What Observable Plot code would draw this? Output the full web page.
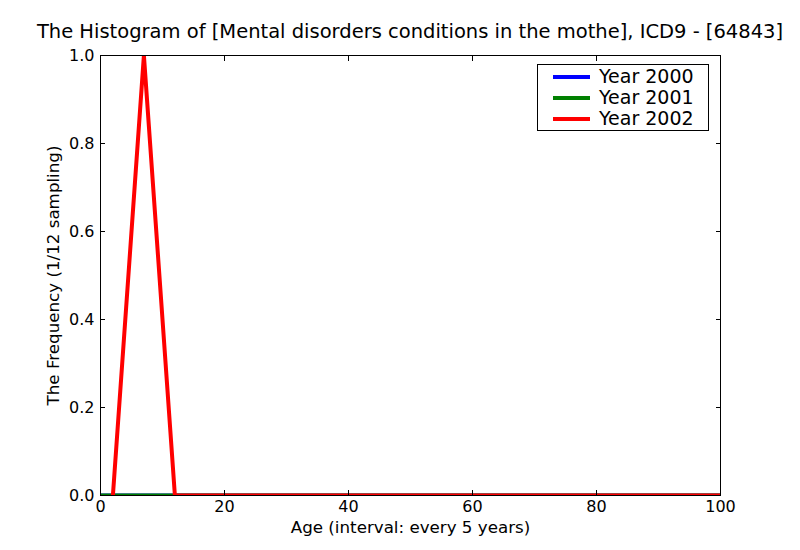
<!DOCTYPE html>
<html>
<head>
<meta charset="utf-8">
<script src="https://cdn.jsdelivr.net/npm/d3@7"></script>
<script src="https://cdn.jsdelivr.net/npm/@observablehq/plot@0.6"></script>
<style>
  body { margin: 0; background: #fff; font-family: "DejaVu Sans", sans-serif; }
  #wrap { position: relative; width: 800px; height: 550px; overflow: hidden; }
  #title { position: absolute; top: 22px; left: 0; width: 820px; text-align: center; font-size: 19.5px; white-space: nowrap; color: #000; line-height: 1; }
  #legend { position: absolute; left: 537px; top: 64px; width: 170px; height: 65px; border: 1px solid #000; background: #fff; }
  .li { position: absolute; left: 15px; height: 21px; font-size: 19px; line-height: 21px; }
  .li span.sw { display: inline-block; width: 37px; height: 4px; vertical-align: middle; margin-right: 9px; position: relative; top: -1px; }
  #chart { position: absolute; left: 0; top: 0; }
  #chart svg g[aria-label="x-axis label"] text, #chart svg g[aria-label="y-axis label"] text { font-size: 16.7px; }
</style>
</head>
<body>
<div id="wrap">
  <div id="chart"></div>
  <div id="title"></div>
  <div id="legend"></div>
</div>
<script>
const titleText = "The Histogram of [Mental disorders conditions in the mothe], ICD9 - [64843]";
const xLabel = "Age (interval: every 5 years)";
const yLabel = "The Frequency (1/12 sampling)";
const seriesNames = ["Year 2000", "Year 2001", "Year 2002"];
const seriesColors = ["#0000ff", "#008000", "#ff0000"];
const ages = [0, 2, 7, 12, 17, 22, 27, 32, 37, 42, 47, 52, 57, 62, 67, 72, 77, 82, 87, 92, 97, 100];
const year2000 = [0, 0, 0, 0, 0, 0, 0, 0, 0, 0, 0, 0, 0, 0, 0, 0, 0, 0, 0, 0, 0, 0];
const year2001 = [0, 0, 0, 0, 0, 0, 0, 0, 0, 0, 0, 0, 0, 0, 0, 0, 0, 0, 0, 0, 0, 0];
const year2002 = [null, 0, 1, 0, 0, 0, 0, 0, 0, 0, 0, 0, 0, 0, 0, 0, 0, 0, 0, 0, 0, 0];
const xTicks = [0, 20, 40, 60, 80, 100];
const yTicks = [0, 0.2, 0.4, 0.6, 0.8, 1.0];

const allSeries = [year2000, year2001, year2002];
const rows = [];
allSeries.forEach((vals, si) => {
  vals.forEach((v, i) => rows.push({series: seriesNames[si], age: ages[i], value: v}));
});

document.getElementById("title").textContent = titleText;

const chart = Plot.plot({
  width: 800,
  height: 550,
  marginTop: 55,
  marginBottom: 55,
  marginLeft: 100,
  marginRight: 80,
  style: {fontFamily: "DejaVu Sans, sans-serif", fontSize: "16px", color: "#000", background: "#fff"},
  x: {domain: [0, 100]},
  y: {domain: [0, 1]},
  color: {domain: seriesNames, range: seriesColors},
  marks: [
    Plot.line(rows, {x: "age", y: "value", z: "series", stroke: "series", strokeWidth: 4, clip: true, strokeLinejoin: "round", strokeLinecap: "butt"}),
    Plot.frame({stroke: "#000", strokeWidth: 1}),
    Plot.axisX({anchor: "bottom", ticks: xTicks, tickSize: -5, tickPadding: 10, tickFormat: d3.format("d"), label: xLabel, labelAnchor: "center", labelArrow: "none", labelOffset: 37, fontSize: 16}),
    Plot.axisX({anchor: "top", ticks: xTicks, tickSize: -5, tickFormat: () => "", label: null}),
    Plot.axisY({anchor: "left", ticks: yTicks, tickSize: -5, tickPadding: 11, tickFormat: d3.format(".1f"), label: yLabel, labelAnchor: "center", labelArrow: "none", labelOffset: 53, fontSize: 16}),
    Plot.axisY({anchor: "right", ticks: yTicks, tickSize: -5, tickFormat: () => "", label: null})
  ]
});
document.getElementById("chart").appendChild(chart);

const legend = document.getElementById("legend");
seriesNames.forEach((name, i) => {
  const d = document.createElement("div");
  d.className = "li";
  d.style.top = (1 + i * 21) + "px";
  const sw = document.createElement("span");
  sw.className = "sw";
  sw.style.background = seriesColors[i];
  d.appendChild(sw);
  d.appendChild(document.createTextNode(name));
  legend.appendChild(d);
});
</script>
</body>
</html>
